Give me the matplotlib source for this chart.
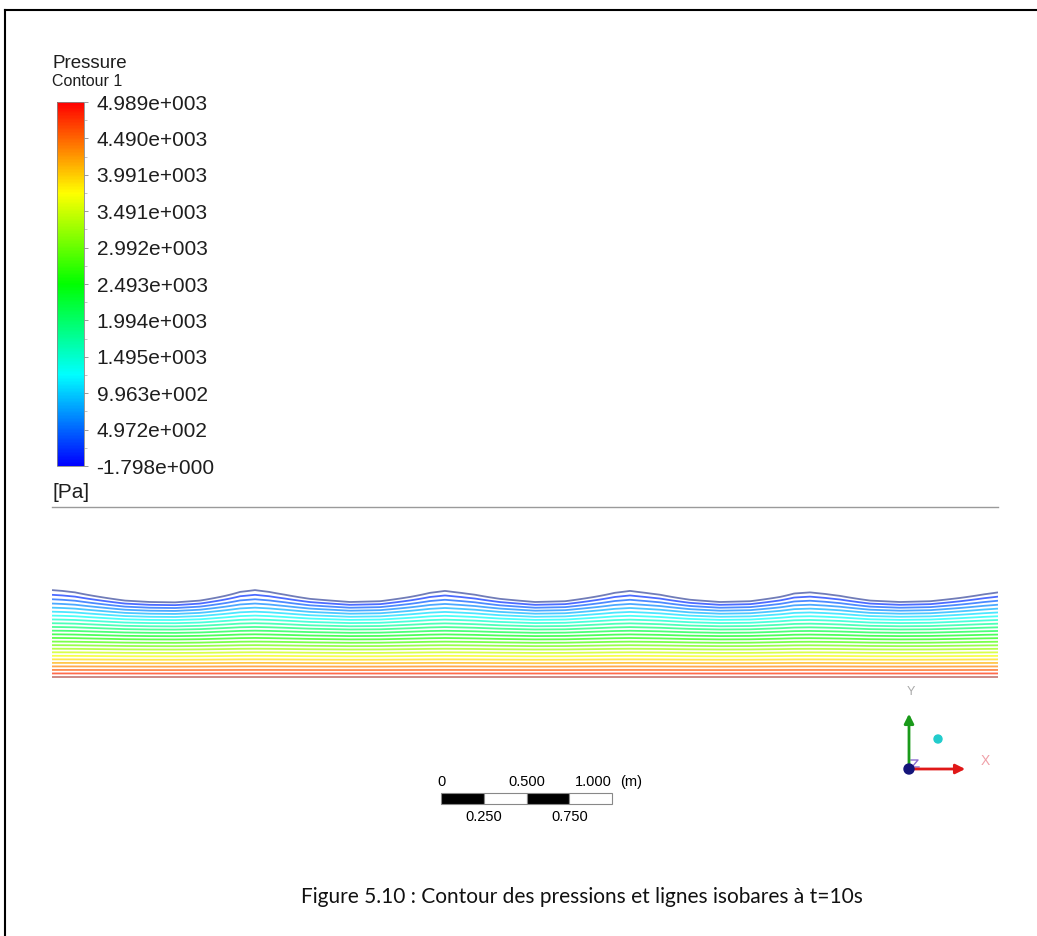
import numpy as np
import matplotlib
matplotlib.use('Agg')
import matplotlib.pyplot as plt
from matplotlib.colors import LinearSegmentedColormap, Normalize
from matplotlib.cm import ScalarMappable
from matplotlib.ticker import FixedLocator
from matplotlib.patches import Rectangle, Circle

plt.rcParams['font.family'] = ['Liberation Sans', 'DejaVu Sans']

# pressure range of the legend [Pa]
p_min = -1.798
p_max = 4989.0
n_lines = 24

bar_labels = [
    '-1.798e+000', '4.972e+002', '9.963e+002', '1.495e+003', '1.994e+003',
    '2.493e+003', '2.992e+003', '3.491e+003', '3.991e+003', '4.490e+003',
    '4.989e+003',
]

# free surface elevation above the bottom at t=10s [m]
surf_x = [0.000, 0.060, 0.135, 0.281, 0.427, 0.573, 0.719, 0.865, 1.012,
          1.100, 1.187, 1.270, 1.363, 1.509, 1.743, 1.918, 2.094, 2.210,
          2.298, 2.390, 2.474, 2.620, 2.825, 3.000, 3.205, 3.290, 3.380,
          3.470, 3.556, 3.731, 3.906, 4.082, 4.257, 4.340, 4.433, 4.520,
          4.608, 4.784, 4.959, 5.135, 5.310, 5.450, 5.532]
surf_eta = [0.500, 0.497, 0.491, 0.468, 0.444, 0.433, 0.430, 0.444, 0.474,
            0.493, 0.500, 0.493, 0.480, 0.456, 0.433, 0.439, 0.468, 0.489,
            0.497, 0.489, 0.480, 0.456, 0.433, 0.439, 0.474, 0.489, 0.497,
            0.489, 0.480, 0.450, 0.433, 0.439, 0.468, 0.486, 0.491, 0.484,
            0.474, 0.444, 0.433, 0.439, 0.462, 0.482, 0.491]
wave_length = 1.11

# scale bar ticks [m]
scale_ticks = [0.0, 0.25, 0.5, 0.75, 1.0]

W, H = 1037, 936
fig = plt.figure(figsize=(W / 100, H / 100), dpi=100)


def px_box(x0, y0, x1, y1):
    return [x0 / W, 1 - y1 / H, (x1 - x0) / W, (y1 - y0) / H]


cmap = LinearSegmentedColormap.from_list(
    'rainbow5', ['#0000ff', '#00ffff', '#00ff00', '#ffff00', '#ff0000'])
norm = Normalize(p_min, p_max)
txt_col = '#1e1e1e'

# background / decorations in pixel space
deco = fig.add_axes([0, 0, 1, 1])
deco.set_xlim(0, W)
deco.set_ylim(H, 0)
deco.axis('off')
deco.plot([5, W], [10, 10], color='black', lw=1.5)
deco.plot([5, 5], [10, H], color='black', lw=1.5)
deco.plot([52, 998], [507, 507], color='#9a9a9a', lw=1.0)
deco.text(52, 64, 'Pressure', fontsize=13.5, va='center', color=txt_col)
deco.text(52, 82, 'Contour 1', fontsize=11.5, va='center', color=txt_col)
deco.text(52, 492, '[Pa]', fontsize=15, va='center', color=txt_col)
deco.text(582, 897, 'Figure 5.10 : Contour des pressions et lignes isobares à t=10s',
          fontsize=15, ha='center', va='center', family=['Lato', 'DejaVu Sans'],
          color='#111111')

# axis triad
ox, oy = 909, 769
deco.annotate('', xy=(ox, 711), xytext=(ox, oy),
              arrowprops=dict(arrowstyle='-|>', color='#1a9a1a', lw=2,
                              mutation_scale=14))
deco.annotate('', xy=(968, oy), xytext=(ox, oy),
              arrowprops=dict(arrowstyle='-|>', color='#e01818', lw=2,
                              mutation_scale=14))
deco.plot([ox + 2, ox + 9, ox + 3, ox + 10], [oy - 9, oy - 9, oy - 2, oy - 2],
          color='#8a6ad0', lw=1)
deco.add_patch(Circle((ox, oy), 5, color='#14147a', zorder=5))
deco.add_patch(Circle((938, 739), 4, color='#22cccc', zorder=5))
deco.text(911, 692, 'Y', fontsize=9, color='#aaaaaa', ha='center', va='center')
deco.text(985, 761, 'X', fontsize=10, color='#f0a0a8', ha='center', va='center')

# flow domain, drawn in metres (171 px per metre)
ax = fig.add_axes(px_box(52, 560, 998, 830))
ax.set_xlim(0, 5.532)
ax.set_ylim(-0.895, 0.684)
ax.axis('off')

xs = np.linspace(0, 5.532, 700)
zs = np.linspace(-0.01, 0.54, 400)
X, Z = np.meshgrid(xs, zs)
eta = np.interp(xs, surf_x, surf_eta)[None, :]
h0 = np.mean(surf_eta)
k = 2 * np.pi / wave_length
eta_eff = h0 + (eta - h0) * np.cosh(k * Z) / np.cosh(k * h0)
P = p_max - (p_max - p_min) * Z / eta_eff

levels = np.linspace(p_min, p_max, n_lines)
line_cols = [cmap(norm(v)) for v in levels]
line_cols[0] = '#34449a'
line_cols[-1] = '#b04a44'
ax.contour(X, Z, P, levels=levels, colors=line_cols,
           linewidths=1.3, alpha=0.7)

# scale bar
x0 = 2.275
zb0, zb1 = -0.743, -0.678
for i in range(len(scale_ticks) - 1):
    a, b = scale_ticks[i], scale_ticks[i + 1]
    ax.add_patch(Rectangle((x0 + a, zb0), b - a, zb1 - zb0,
                           facecolor='black' if i % 2 == 0 else 'white',
                           edgecolor='#888888', lw=0.8))
z_top, z_bot = -0.614, -0.819
fs = 10.5
ax.text(x0 + scale_ticks[0], z_top, '0', fontsize=fs, ha='center', va='center')
ax.text(x0 + scale_ticks[2], z_top, '%.3f' % scale_ticks[2], fontsize=fs,
        ha='center', va='center')
ax.text(x0 + scale_ticks[4], z_top, '%.3f' % scale_ticks[4], fontsize=fs,
        ha='right', va='center')
ax.text(x0 + scale_ticks[4] + 0.05, z_top, '(m)', fontsize=fs, ha='left',
        va='center')
ax.text(x0 + scale_ticks[1], z_bot, '%.3f' % scale_ticks[1], fontsize=fs,
        ha='center', va='center')
ax.text(x0 + scale_ticks[3], z_bot, '%.3f' % scale_ticks[3], fontsize=fs,
        ha='center', va='center')

# legend colour bar
cax = fig.add_axes(px_box(57, 102, 84, 466))
cb = fig.colorbar(ScalarMappable(norm=norm, cmap=cmap), cax=cax)
tick_vals = np.linspace(p_min, p_max, len(bar_labels))
cb.set_ticks(tick_vals)
cb.set_ticklabels(bar_labels)
cb.outline.set_linewidth(0.6)
cb.outline.set_edgecolor('#888888')
cax.yaxis.set_minor_locator(FixedLocator((tick_vals[:-1] + tick_vals[1:]) / 2))
cax.tick_params(which='major', length=3, width=0.6, color='#888888',
                labelsize=15, pad=6, labelcolor=txt_col)
cax.tick_params(which='minor', length=2, width=0.5, color='#aaaaaa')

fig.savefig('out.png', dpi=100)
